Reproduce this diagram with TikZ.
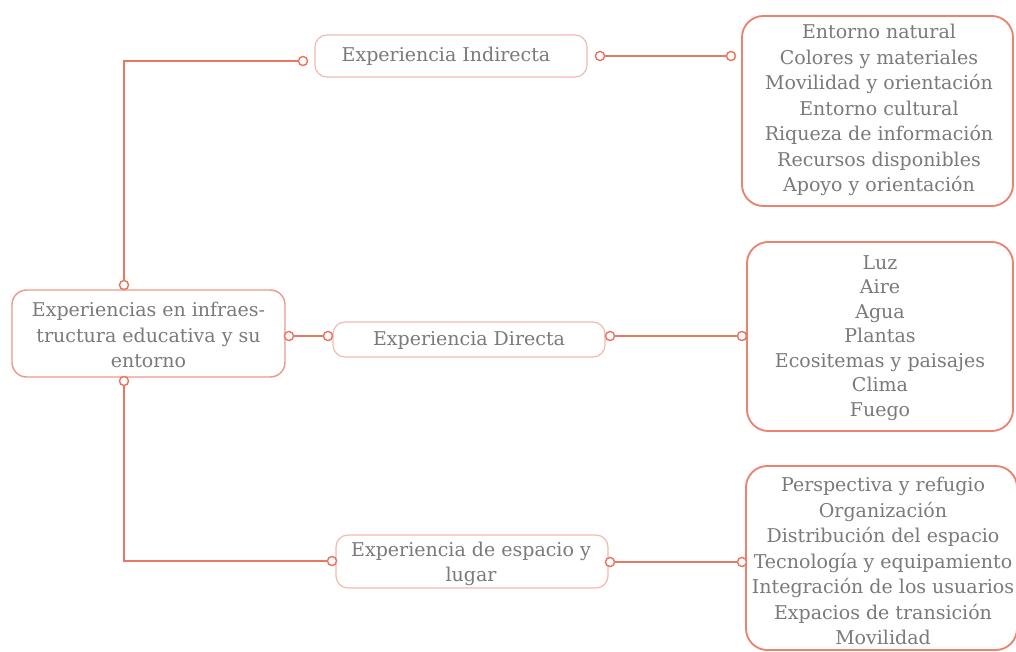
\documentclass[tikz,border=0pt]{standalone}
\usepackage{fontspec}
\setmainfont{DejaVu Serif}
\definecolor{linec}{HTML}{E97862}
\definecolor{bigc}{HTML}{EA8470}
\definecolor{rootc}{HTML}{EB9A8B}
\definecolor{midc}{HTML}{F2BAAE}
\definecolor{txtc}{HTML}{7A7A7A}
\tikzset{
  bigbox/.style={draw=bigc, line width=1.4pt, fill=white, rounded corners=16pt, inner sep=0pt},
  rootbox/.style={draw=rootc, line width=1.1pt, fill=white, rounded corners=11pt, inner sep=0pt},
  midbox/.style={draw=midc, line width=0.9pt, fill=white, rounded corners=9pt, inner sep=0pt},
  txt/.style={text=txtc, align=center, inner sep=0pt, font=\fontsize{14.25pt}{19.1pt}\selectfont},
  dot/.style={circle, draw=linec, fill=white, line width=1.1pt, minimum size=6.8pt, inner sep=0pt},
  conn/.style={draw=linec, line width=1.4pt}
}
\begin{document}
\begin{tikzpicture}[x=0.75pt,y=-0.75pt]
\useasboundingbox (0,0) rectangle (1016,652);
\clip (0,0) rectangle (1016,652);

% root box
\node[rootbox, minimum width=204.75pt, minimum height=65.25pt] (root) at (148.5,333.5) {};
\node[txt] (roott) at (148.5,335) {Experiencias en infraes-\\tructura educativa y su\\entorno};

% middle level boxes
\node[midbox, minimum width=204pt, minimum height=31.5pt] (ind) at (451,56) {};
\node[txt] (indt) at (446,56) {Experiencia Indirecta};
\node[midbox, minimum width=204pt, minimum height=26.25pt] (dir) at (469,339.5) {};
\node[txt] (dirt) at (469,340) {Experiencia Directa};
\node[midbox, minimum width=204pt, minimum height=39.75pt] (esp) at (472,561.5) {};
\node[txt] (espt) at (471,564) {Experiencia de espacio y\\lugar};

% right boxes with the item lists
\node[bigbox, minimum width=203.25pt, minimum height=142.5pt] (r1) at (877.5,111) {};
\node[txt] (r1t) at (879,110) {Entorno natural\\Colores y materiales\\Movilidad y orientación\\Entorno cultural\\Riqueza de información\\Recursos disponibles\\Apoyo y orientación};
\node[bigbox, minimum width=199.5pt, minimum height=141.75pt] (r2) at (880,336.5) {};
\node[txt, font=\fontsize{14.25pt}{18.4pt}\selectfont] (r2t) at (880,338) {Luz\\Aire\\Agua\\Plantas\\Ecositemas y paisajes\\Clima\\Fuego};
\node[bigbox, minimum width=203.25pt, minimum height=138pt] (r3) at (881.5,558) {};
\node[txt] (r3t) at (883,561) {Perspectiva y refugio\\Organización\\Distribución del espacio\\Tecnología y equipamiento\\Integración de los usuarios\\Expacios de transición\\Movilidad};

% connector end dots
\node[dot] (rt) at (124,285) {};
\node[dot] (rr) at (289,336) {};
\node[dot] (rb) at (124,381) {};
\node[dot] (indl) at (303,61) {};
\node[dot] (indr) at (600,56) {};
\node[dot] (r1l) at (731,56) {};
\node[dot] (dirl) at (328,336) {};
\node[dot] (dirr) at (610,336) {};
\node[dot] (r2l) at (742,336) {};
\node[dot] (espl) at (332,561) {};
\node[dot] (espr) at (610,562) {};
\node[dot] (r3l) at (742,562) {};

% connectors
\draw[conn] (rt) |- (indl);
\draw[conn] (rr) -- (dirl);
\draw[conn] (rb) |- (espl);
\draw[conn] (indr) -- (r1l);
\draw[conn] (dirr) -- (r2l);
\draw[conn] (espr) -- (r3l);
\end{tikzpicture}
\end{document}
